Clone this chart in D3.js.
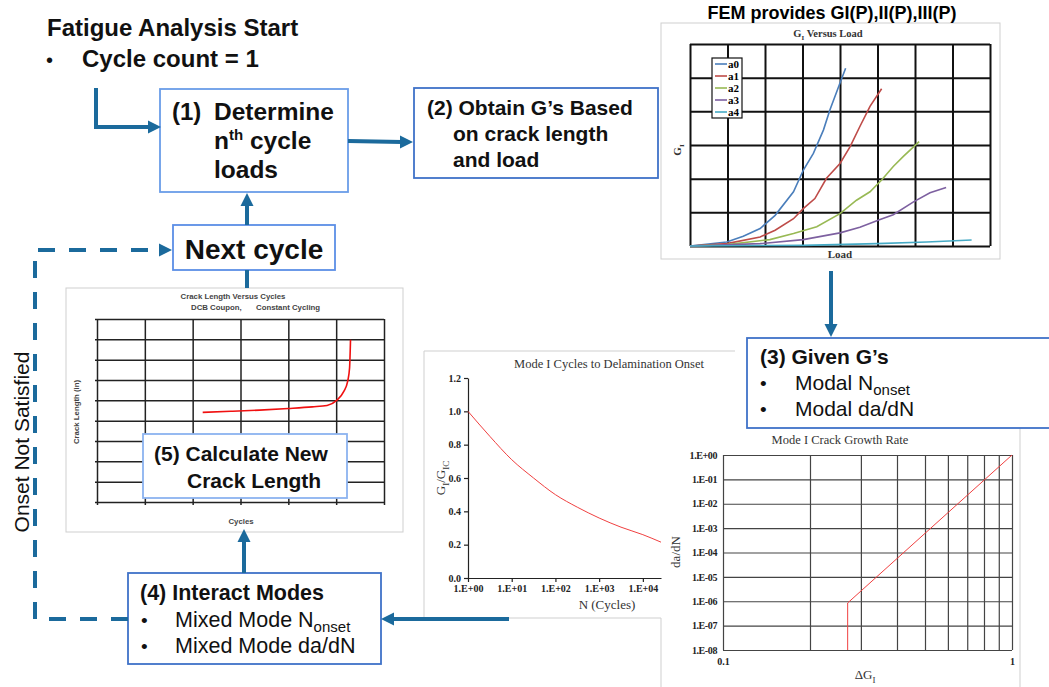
<!DOCTYPE html>
<html>
<head>
<meta charset="utf-8">
<script src="https://cdn.jsdelivr.net/npm/d3@7"></script>
<style>
body { margin: 0; background: #fff; }
svg { display: block; font-family: "Liberation Sans", Arial, sans-serif; }
.serif { font-family: "Liberation Serif", "Times New Roman", serif; }
</style>
</head>
<body>
<svg id="chart" width="1049" height="687"></svg>
<script>
// G_I versus load, one curve per crack length (grid units)
var giNames = ["a0", "a1", "a2", "a3", "a4"]
var giColors = ["#4a7ebb", "#be4b48", "#98b954", "#7d60a0", "#46aac5"]
var a0 = [[0,0],[0.98,0.12],[1.42,0.29],[1.87,0.52],[2.27,0.91],[2.76,1.61],[3.02,2.25],[3.29,2.75],[3.56,3.45],[3.73,4.04],[4.0,4.84],[4.15,5.28]]
var a1 = [[0,0],[0.98,0.07],[1.87,0.27],[2.27,0.47],[2.76,0.81],[3.02,1.11],[3.33,1.41],[3.64,2.01],[4.0,2.45],[4.27,2.95],[4.53,3.55],[4.8,4.15],[5.11,4.67]]
var a2 = [[0,0],[0.98,0.04],[2.13,0.19],[2.76,0.37],[3.38,0.57],[4.0,0.96],[4.44,1.36],[4.8,1.61],[5.11,1.96],[5.42,2.36],[5.69,2.66],[6.11,3.1]]
var a3 = [[0,0],[1.87,0.07],[3.02,0.19],[4.0,0.39],[4.53,0.56],[5.07,0.79],[5.42,0.93],[5.96,1.31],[6.4,1.58],[6.83,1.74]]
var a4 = [[0,0],[3.02,0.02],[4.98,0.07],[6.31,0.12],[7.51,0.18]]
var giCols = d3.range(0, 9)
var giRows = d3.range(0, 7)

// crack length versus cycles
var crackCycles = [2.21, 2.8, 3.4, 4.0, 4.5, 4.81, 5.01, 5.16, 5.24, 5.28, 5.30]
var crackLength = [4.41, 4.46, 4.52, 4.6, 4.68, 4.75, 5.0, 5.44, 5.93, 6.59, 7.98]
var crackCols = d3.range(0, 7)
var crackRows = d3.range(0, 10)

// mode I cycles to delamination onset
var onsetN = [1, 3.16, 10, 31.6, 100, 316, 1000, 3162, 10000, 26000]
var onsetG = [1.0, 0.85, 0.71, 0.6, 0.5, 0.425, 0.36, 0.305, 0.26, 0.215]
var onsetTicksX = [1, 10, 100, 1000, 10000]
var onsetTicksY = [0, 0.2, 0.4, 0.6, 0.8, 1.0, 1.2]

// mode I crack growth rate
var growthDG = [0.27, 0.27, 1]
var growthRate = [1e-8, 8.5e-7, 1]
var growthTicksX = [0.1, 0.2, 0.3, 0.4, 0.5, 0.6, 0.7, 0.8, 0.9, 1]
var growthTicksY = [1, 1e-1, 1e-2, 1e-3, 1e-4, 1e-5, 1e-6, 1e-7, 1e-8]

var blue = "#1b6a9c"
var svg = d3.select("#chart")

function expFmt(d) {
  var e = Math.round(Math.log10(d))
  return "1.E" + (e < 0 ? "-" : "+") + String(Math.abs(e)).padStart(2, "0")
}

function panel(x, y, w, h) {
  svg.append("rect").attr("x", x).attr("y", y).attr("width", w).attr("height", h)
    .attr("fill", "#fff").attr("stroke", "#cfcfcf").attr("stroke-width", 1)
}
function edge(d) {
  svg.append("path").attr("d", d).attr("fill", "none").attr("stroke", "#cfcfcf").attr("stroke-width", 1)
}

// ---------- G_I versus Load chart ----------
panel(661, 23, 339, 236)
var gx = d3.scaleLinear().domain([0, 8]).range([690, 990])
var gy = d3.scaleLinear().domain([0, 6]).range([246, 44])

svg.append("g").attr("transform", "translate(0,246)")
  .call(d3.axisBottom(gx).tickValues(giCols).tickSize(-(246 - 44)).tickFormat(""))
  .call(g => g.select(".domain").remove())
  .selectAll("line").attr("stroke", "#111").attr("stroke-width", 2)
svg.append("g").attr("transform", "translate(690,0)")
  .call(d3.axisLeft(gy).tickValues(giRows).tickSize(-(990 - 690)).tickFormat(""))
  .call(g => g.select(".domain").remove())
  .selectAll("line").attr("stroke", "#111").attr("stroke-width", 2)

var giLine = d3.line().x(d => gx(d[0])).y(d => gy(d[1]))
var giData = [a0, a1, a2, a3, a4]
giData.forEach(function(s, i) {
  svg.append("path").datum(s).attr("d", giLine).attr("fill", "none")
    .attr("stroke", giColors[i]).attr("stroke-width", 1.6)
})

// legend
svg.append("rect").attr("x", 712).attr("y", 58).attr("width", 30).attr("height", 60)
  .attr("fill", "#fff").attr("stroke", "#111").attr("stroke-width", 1.2)
giNames.forEach(function(n, i) {
  var ly = 64 + i * 12
  svg.append("line").attr("x1", 715).attr("x2", 727).attr("y1", ly).attr("y2", ly)
    .attr("stroke", giColors[i]).attr("stroke-width", 1.6)
  svg.append("text").attr("class", "serif").attr("x", 728).attr("y", ly + 3.5)
    .attr("font-size", 11).attr("font-weight", "bold").text(n)
})

var gt = svg.append("text").attr("class", "serif").attr("x", 828).attr("y", 37)
  .attr("text-anchor", "middle").attr("font-size", 10.5).attr("font-weight", "bold").attr("fill", "#333")
gt.append("tspan").text("G")
gt.append("tspan").attr("dy", 3).attr("font-size", 7).text("I")
gt.append("tspan").attr("dy", -3).text(" Versus Load")
svg.append("text").attr("class", "serif").attr("x", 840).attr("y", 258)
  .attr("text-anchor", "middle").attr("font-size", 11).attr("font-weight", "bold").attr("fill", "#333").text("Load")
var gyl = svg.append("text").attr("class", "serif").attr("transform", "translate(681,150) rotate(-90)")
  .attr("text-anchor", "middle").attr("font-size", 11).attr("font-weight", "bold").attr("fill", "#333")
gyl.append("tspan").text("G")
gyl.append("tspan").attr("dy", 3).attr("font-size", 7).text("I")

svg.append("text").attr("x", 832).attr("y", 19).attr("text-anchor", "middle")
  .attr("font-size", 18).attr("font-weight", "bold").text("FEM provides GI(P),II(P),III(P)")

// ---------- Crack length versus cycles chart ----------
panel(66, 288, 337, 244)
var cx = d3.scaleLinear().domain([0, 6]).range([97, 384])
var cy = d3.scaleLinear().domain([0, 9]).range([502, 319])

svg.append("g").attr("transform", "translate(0,502)")
  .call(d3.axisBottom(cx).tickValues(crackCols).tickSize(-(502 - 319)).tickFormat(""))
  .call(g => g.select(".domain").remove())
  .selectAll("line").attr("stroke", "#222").attr("stroke-width", 1.5).attr("y1", 3)
svg.append("g").attr("transform", "translate(97,0)")
  .call(d3.axisLeft(cy).tickValues(crackRows).tickSize(-(384 - 97)).tickFormat(""))
  .call(g => g.select(".domain").remove())
  .selectAll("line").attr("stroke", "#222").attr("stroke-width", 1.5).attr("x1", -2)

var crackPts = crackCycles.map((c, i) => [c, crackLength[i]])
svg.append("path").datum(crackPts)
  .attr("d", d3.line().x(d => cx(d[0])).y(d => cy(d[1])).curve(d3.curveMonotoneX))
  .attr("fill", "none").attr("stroke", "#f01010").attr("stroke-width", 1.6)

svg.append("text").attr("x", 233).attr("y", 299).attr("text-anchor", "middle")
  .attr("font-size", 7.8).attr("font-weight", "bold").attr("fill", "#444").text("Crack Length Versus Cycles")
svg.append("text").attr("x", 191).attr("y", 310)
  .attr("font-size", 7.8).attr("font-weight", "bold").attr("fill", "#444").text("DCB Coupon,")
svg.append("text").attr("x", 256).attr("y", 310)
  .attr("font-size", 7.8).attr("font-weight", "bold").attr("fill", "#444").text("Constant Cycling")
svg.append("text").attr("transform", "translate(79,412) rotate(-90)").attr("text-anchor", "middle")
  .attr("font-size", 7.8).attr("font-weight", "bold").attr("fill", "#444").text("Crack Length (in)")
svg.append("text").attr("x", 241).attr("y", 524).attr("text-anchor", "middle")
  .attr("font-size", 7.8).attr("font-weight", "bold").attr("fill", "#444").text("Cycles")

// ---------- Mode I cycles to delamination onset ----------
svg.append("rect").attr("x", 424).attr("y", 351).attr("width", 311).attr("height", 267).attr("fill", "#fff")
edge("M735,351 H424 V618 H661 V687")
var ox = d3.scaleLog().domain([1, 26000]).range([468, 661])
var oy = d3.scaleLinear().domain([0, 1.2]).range([578, 378])

var oxAxis = svg.append("g").attr("class", "serif").attr("transform", "translate(0,578)")
  .call(d3.axisBottom(ox).tickValues(onsetTicksX).tickFormat(expFmt).tickSize(4).tickSizeOuter(0).tickPadding(3))
var oyAxis = svg.append("g").attr("class", "serif").attr("transform", "translate(468,0)")
  .call(d3.axisLeft(oy).tickValues(onsetTicksY).tickFormat(d3.format(".1f")).tickSize(4).tickSizeOuter(0).tickPadding(3))
;[oxAxis, oyAxis].forEach(function(a) {
  a.attr("font-family", null).attr("font-size", null)
  a.selectAll("text").attr("font-size", 10).attr("font-weight", "bold").attr("fill", "#222")
  a.selectAll("line, path").attr("stroke", "#222").attr("stroke-width", 1.2)
})

var onsetPts = onsetN.map((n, i) => [n, onsetG[i]])
svg.append("path").datum(onsetPts)
  .attr("d", d3.line().x(d => ox(d[0])).y(d => oy(d[1])).curve(d3.curveMonotoneX))
  .attr("fill", "none").attr("stroke", "#f04040").attr("stroke-width", 1)

svg.append("text").attr("class", "serif").attr("x", 609).attr("y", 368).attr("text-anchor", "middle")
  .attr("font-size", 12.5).attr("fill", "#333").text("Mode I Cycles to Delamination Onset")
svg.append("text").attr("class", "serif").attr("x", 607).attr("y", 609).attr("text-anchor", "middle")
  .attr("font-size", 13).attr("fill", "#333").text("N (Cycles)")
var oyl = svg.append("text").attr("class", "serif").attr("transform", "translate(445,478) rotate(-90)")
  .attr("text-anchor", "middle").attr("font-size", 13).attr("fill", "#333")
oyl.append("tspan").text("G")
oyl.append("tspan").attr("dy", 4).attr("font-size", 9).text("I")
oyl.append("tspan").attr("dy", -4).text("/G")
oyl.append("tspan").attr("dy", 4).attr("font-size", 9).text("IC")

// ---------- Mode I crack growth rate ----------
svg.append("rect").attr("x", 664).attr("y", 428).attr("width", 356).attr("height", 260).attr("fill", "#fff")
edge("M1020,428 V687")
var rx = d3.scaleLog().domain([0.1, 1]).range([723, 1012])
var ry = d3.scaleLog().domain([1e-8, 1]).range([650, 455])

var rxAxis = svg.append("g").attr("class", "serif").attr("transform", "translate(0,650)")
  .call(d3.axisBottom(rx).tickValues(growthTicksX).tickSize(-(650 - 455)).tickPadding(8)
    .tickFormat(d => (d === 0.1 || d === 1) ? String(d) : ""))
var ryAxis = svg.append("g").attr("class", "serif").attr("transform", "translate(723,0)")
  .call(d3.axisLeft(ry).tickValues(growthTicksY).tickSize(-(1012 - 723)).tickPadding(6).tickFormat(expFmt))
;[rxAxis, ryAxis].forEach(function(a) {
  a.attr("font-family", null).attr("font-size", null)
  a.select(".domain").remove()
  a.selectAll("text").attr("font-size", 10).attr("font-weight", "bold").attr("fill", "#222")
  a.selectAll("line").attr("stroke", "#444").attr("stroke-width", 1.2)
})
ryAxis.selectAll("text").attr("letter-spacing", -0.4)

var growthPts = growthDG.map((g, i) => [g, growthRate[i]])
svg.append("path").datum(growthPts)
  .attr("d", d3.line().x(d => rx(d[0])).y(d => ry(d[1])))
  .attr("fill", "none").attr("stroke", "#f04040").attr("stroke-width", 1)

svg.append("text").attr("class", "serif").attr("x", 840).attr("y", 444).attr("text-anchor", "middle")
  .attr("font-size", 12.5).attr("fill", "#333").text("Mode I Crack Growth Rate")
var rxl = svg.append("text").attr("class", "serif").attr("x", 865).attr("y", 679).attr("text-anchor", "middle")
  .attr("font-size", 13).attr("fill", "#333")
rxl.append("tspan").text("\u0394G")
rxl.append("tspan").attr("dy", 4).attr("font-size", 9).text("I")
svg.append("text").attr("class", "serif").attr("transform", "translate(680,552) rotate(-90)")
  .attr("text-anchor", "middle").attr("font-size", 13).attr("fill", "#333").text("da/dN")

// ---------- flow boxes ----------
function box(x, y, w, h, color) {
  svg.append("rect").attr("x", x).attr("y", y).attr("width", w).attr("height", h)
    .attr("fill", "#fff").attr("stroke", color).attr("stroke-width", 1.8)
}
function txt(x, y, size, weight, s) {
  return svg.append("text").attr("x", x).attr("y", y).attr("font-size", size)
    .attr("font-weight", weight).attr("fill", "#111").text(s)
}

txt(47, 36, 24, "bold", "Fatigue Analysis Start")
txt(46, 67, 20, "normal", "\u2022")
txt(82, 67, 24, "bold", "Cycle count = 1")

box(160, 89, 188, 103, "#6a9de8")
txt(172, 120, 24, "bold", "(1)")
txt(214, 120, 24.5, "bold", "Determine")
var nth = txt(214, 149, 24.5, "bold", "n")
nth.append("tspan").attr("dy", -9).attr("font-size", 15).text("th")
nth.append("tspan").attr("dy", 9).text(" cycle")
txt(214, 178, 24.5, "bold", "loads")

box(414, 88, 244, 90, "#3f72c8")
txt(427, 115, 21, "bold", "(2) Obtain G\u2019s Based")
txt(453, 141, 21, "bold", "on crack length")
txt(453, 167, 21, "bold", "and load")

box(173, 225, 162, 45, "#5b8ee6")
txt(254, 259, 28, "bold", "Next cycle").attr("text-anchor", "middle")

box(143, 434, 204, 64, "#8cb3f0")
txt(154, 461, 21, "bold", "(5) Calculate New")
txt(187, 488, 21, "bold", "Crack Length")

box(747, 338, 320, 90, "#3f72c8")
txt(760, 364, 21, "bold", "(3) Given G\u2019s")
txt(760, 390, 19, "normal", "\u2022")
var n3 = txt(795, 390, 21, "normal", "Modal N")
n3.append("tspan").attr("dy", 5).attr("font-size", 15).text("onset")
txt(760, 416, 19, "normal", "\u2022")
txt(795, 416, 21, "normal", "Modal da/dN")

box(128, 573, 253, 91, "#3f72c8")
txt(140, 600, 21.5, "bold", "(4) Interact Modes")
txt(141, 627, 19, "normal", "\u2022")
var n4 = txt(175, 627, 21.5, "normal", "Mixed Mode N")
n4.append("tspan").attr("dy", 5).attr("font-size", 15).text("onset")
txt(141, 653, 19, "normal", "\u2022")
txt(175, 653, 21.5, "normal", "Mixed Mode da/dN")

svg.append("text").attr("transform", "translate(29,442) rotate(-90)").attr("text-anchor", "middle")
  .attr("font-size", 21).attr("fill", "#111").text("Onset Not Satisfied")

// ---------- arrows ----------
function head(tx, ty, dir) {
  // dir: direction the arrow points, in degrees (0 = right)
  svg.append("path").attr("d", "M0,0 L-13,-6.5 L-13,6.5 Z").attr("fill", blue)
    .attr("transform", "translate(" + tx + "," + ty + ") rotate(" + dir + ")")
}
function link(d, dashed) {
  svg.append("path").attr("d", d).attr("fill", "none").attr("stroke", blue)
    .attr("stroke-width", 4).attr("stroke-dasharray", dashed ? "17,14" : null)
}

link("M96,88 V127 H150")
head(161, 127, 0)
link("M348,141 L402,142")
head(413, 142, 0)
link("M247,225 V204")
head(247, 193, -90)
link("M247,270 V288")
link("M831,271 V326")
head(831, 337, 90)
link("M509,619 H392")
head(381, 619, 180)
link("M244,573 V540")
head(244, 529, -90)
link("M128,619 H35 V250 H160", true)
head(172, 250, 0)
</script>
</body>
</html>
